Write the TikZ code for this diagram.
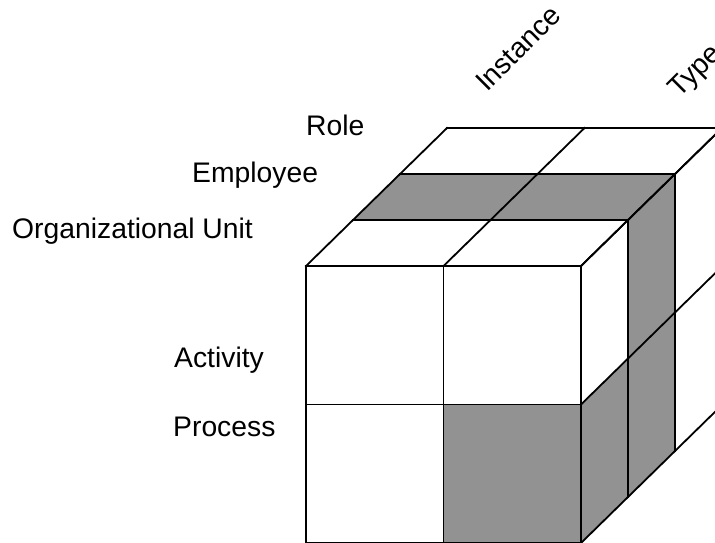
\documentclass[tikz,border=0pt]{standalone}
\usepackage{fontspec}
\setmainfont{Liberation Sans}
\definecolor{cellgray}{RGB}{146,146,146}
\begin{document}
\begin{tikzpicture}[x=1pt,y=-1pt,
  lab/.style={inner sep=0pt, anchor=base west, font=\fontsize{28.3}{34}\selectfont},
  cube/.style={line width=1.8pt, line join=miter, line cap=rect},
  shade/.style={fill=cellgray}]
\useasboundingbox (0,0) rectangle (715,542);
\clip (0,0) rectangle (715,542);
\begin{scope}[shift={(306,266)}, x={(137.5pt,0pt)}, y={(0pt,-138.5pt)}, z={(47pt,46pt)}]
  % shaded cells
  \fill[shade] (1,1,0) -- (2,1,0) -- (2,2,0) -- (1,2,0) -- cycle;
  \fill[shade] (0,0,1) -- (2,0,1) -- (2,0,2) -- (0,0,2) -- cycle;
  \fill[shade] (2,1,0) -- (2,1,1) -- (2,2,1) -- (2,2,0) -- cycle;
  \fill[shade] (2,0,1) -- (2,0,2) -- (2,2,2) -- (2,2,1) -- cycle;
  % front face grid
  \foreach \c in {0,1,2} \draw[cube] (\c,0,0) -- (\c,2,0);
  \foreach \r in {0,1,2} \draw[cube] (0,\r,0) -- (2,\r,0);
  % top face grid
  \foreach \c in {0,1,2} \draw[cube] (\c,0,0) -- (\c,0,3);
  \foreach \d in {0,1,2,3} \draw[cube] (0,0,\d) -- (2,0,\d);
  % right face grid
  \foreach \d in {0,1,2,3} \draw[cube] (2,0,\d) -- (2,2,\d);
  \foreach \r in {0,1,2} \draw[cube] (2,\r,0) -- (2,\r,3);
\end{scope}
\node[lab] (role) at (306,135) {Role};
\node[lab] (employee) at (192,182) {Employee};
\node[lab] (orgunit) at (12,238) {Organizational Unit};
\node[lab] (activity) at (174,367) {Activity};
\node[lab] (process) at (173,436) {Process};
\node[lab, rotate=45] (instance) at (487,93) {Instance};
\node[lab, rotate=45] (type) at (679,99) {Type};
\end{tikzpicture}
\end{document}
